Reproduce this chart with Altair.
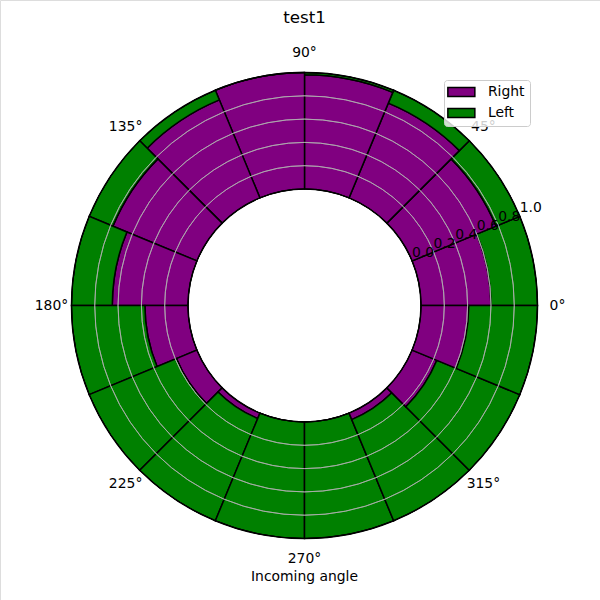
import math
import altair as alt
import pandas as pd

# ---- data ----
sector_start = [0, 22.5, 45, 67.5, 90, 112.5, 135, 157.5,
                180, 202.5, 225, 247.5, 270, 292.5, 315, 337.5]
right = [0.60, 0.78, 0.88, 0.98, 1.00, 0.91, 0.78, 0.65,
         0.37, 0.19, 0.05, 0.00, 0.00, 0.06, 0.23, 0.41]
left = [0.40, 0.22, 0.12, 0.02, 0.00, 0.09, 0.22, 0.35,
        0.63, 0.81, 0.95, 1.00, 1.00, 0.94, 0.77, 0.59]
series = ["Right", "Left"]
series_colors = ["purple", "green"]
grid_r = [0.2, 0.4, 0.6, 0.8]
spine_r = [0.0, 1.0]
r_ticks = [0.0, 0.2, 0.4, 0.6, 0.8, 1.0]
theta_ticks = [0, 45, 90, 135, 180, 225, 270, 315]
r_label_angle = 22.5
title_text = "test1"
xlabel_text = "Incoming angle"

# ---- layout constants ----
CX, CY = 304.5, 305.5
R_IN, R_OUT = 116.5, 233.0
FONT = "DejaVu Sans"
width_deg = 360 / len(sector_start)


def to_vega_deg(math_deg):
    return (90 - math_deg) % 360


rows = []
for a, rv, lv in zip(sector_start, right, left):
    t0 = to_vega_deg(a + width_deg)
    t1 = t0 + width_deg
    rows.append({"angle": a, "side": "Right", "r0": 0.0, "r1": rv, "t0": t0, "t1": t1})
    rows.append({"angle": a, "side": "Left", "r0": rv, "r1": rv + lv, "t0": t0, "t1": t1})
bars_df = pd.DataFrame(rows)

grid_df = pd.DataFrame({"r": grid_r})
spine_df = pd.DataFrame({"r": spine_r})
rt_df = pd.DataFrame({"r": r_ticks, "label": [f"{v:.1f}" for v in r_ticks]})
th_df = pd.DataFrame({
    "t": [to_vega_deg(a) for a in theta_ticks],
    "label": [f"{a}°" for a in theta_ticks],
})

theta_scale = alt.Scale(type="linear", domain=[0, 360], range=[0, 2 * math.pi])
r_scale = alt.Scale(type="linear", domain=[0, 1], range=[R_IN, R_OUT])

bars = alt.Chart(bars_df).mark_arc(stroke="black", strokeWidth=1.5).encode(
    x=alt.value(CX), y=alt.value(CY),
    theta=alt.Theta("t0:Q", scale=theta_scale),
    theta2="t1:Q",
    radius=alt.Radius("r1:Q", scale=r_scale),
    radius2="r0:Q",
    color=alt.Color(
        "side:N",
        scale=alt.Scale(domain=series, range=series_colors),
        legend=alt.Legend(
            title=None, orient="none", legendX=444, legendY=80,
            padding=5, rowPadding=5,
            symbolType="M-1.8,-1 H4.2 V1 H-1.8 Z", symbolSize=81,
            symbolStrokeColor="black", symbolStrokeWidth=1.5, symbolOpacity=1,
            labelFont=FONT, labelFontSize=13.9, labelColor="black", labelOffset=25,
            fillColor="rgba(255,255,255,0.8)", strokeColor="#cccccc", cornerRadius=3,
        ),
    ),
    order=alt.Order("angle:Q"),
)

grid = alt.Chart(grid_df).mark_arc(
    theta=0, theta2=2 * math.pi, fill=None, stroke="#b0b0b0", strokeWidth=0.8
).encode(
    x=alt.value(CX), y=alt.value(CY),
    radius=alt.Radius("r:Q", scale=r_scale),
    radius2="r:Q",
)

spines = alt.Chart(spine_df).mark_arc(
    theta=0, theta2=2 * math.pi, fill=None, stroke="black", strokeWidth=1
).encode(
    x=alt.value(CX), y=alt.value(CY),
    radius=alt.Radius("r:Q", scale=r_scale),
    radius2="r:Q",
)

r_labels = alt.Chart(rt_df).mark_text(
    font=FONT, fontSize=13.9, color="black", align="center", baseline="middle",
    theta=math.radians(to_vega_deg(r_label_angle)), dx=11, dy=-8,
).encode(
    x=alt.value(CX), y=alt.value(CY),
    radius=alt.Radius("r:Q", scale=r_scale),
    text="label:N",
)

t_labels = alt.Chart(th_df).mark_text(
    font=FONT, fontSize=13.9, color="black", align="center", baseline="middle",
).encode(
    x=alt.value(CX), y=alt.value(CY),
    theta=alt.Theta("t:Q", scale=theta_scale),
    radius=alt.value(253),
    text="label:N",
)

xlabel = alt.Chart(pd.DataFrame({"label": [xlabel_text]})).mark_text(
    font=FONT, fontSize=13.9, color="black", align="center", baseline="middle",
).encode(x=alt.value(CX), y=alt.value(577), text="label:N")

title = alt.Chart(pd.DataFrame({"label": [title_text]})).mark_text(
    font=FONT, fontSize=16.7, color="black", align="center", baseline="middle",
).encode(x=alt.value(CX), y=alt.value(18), text="label:N")

chart = alt.layer(bars, grid, spines, r_labels, t_labels, xlabel, title).properties(
    width=600, height=600, padding=0, background="white",
    autosize=alt.AutoSizeParams(type="none"),
).configure_view(strokeWidth=0, stroke="transparent").configure(font=FONT)

chart.save("out.html", embed_options={"renderer": "svg", "actions": False})
